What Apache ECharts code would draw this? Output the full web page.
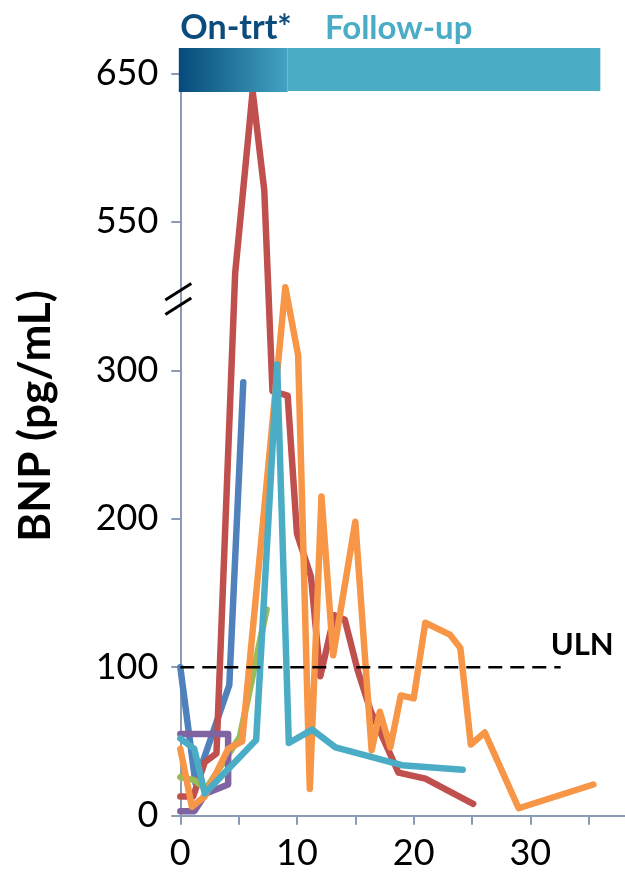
<!DOCTYPE html>
<html>
<head>
<meta charset="utf-8">
<script src="https://cdn.jsdelivr.net/npm/echarts@6/dist/echarts.min.js"></script>
<style>
  html, body { margin: 0; padding: 0; background: #ffffff; overflow: hidden; }
  /* the month axis runs on past the right edge of the page, so the canvas is wider than the view */
  #chart { width: 650px; height: 872px; }
</style>
</head>
<body>
<div id="chart"></div>
<script>
// Months since start of treatment (x) and BNP in pg/mL (y), one pair of arrays per patient
const blueMonths   = [0, 1.3, 4.2, 5.4];
const blueBNP      = [100, 22, 88, 292];

const redMonths    = [0, 1.1, 2.1, 3.1, 4.7, 6.2, 7.2, 7.9, 9.2, 10.0, 11.2, 12.0, 13.2, 14.1, 15.2, 16.3, 18.7, 21.0, 25.1];
const redBNP       = [13, 13, 36, 42, 463, 638, 571, 286, 283, 190, 161, 94, 135, 132, 98, 71, 29, 25, 8];

const greenMonths  = [0, 1.2, 2.2, 5.1, 7.4];
const greenBNP     = [26, 24, 18, 53, 139];

const purpleMonths = [0, 1.2, 2.2, 4.1, 4.1, 0];
const purpleBNP    = [3, 3, 15, 21, 55, 55];

const orangeMonths = [0, 1.0, 2.1, 4.1, 5.3, 9.0, 10.1, 11.1, 12.1, 13.1, 15.0, 16.4, 17.1, 18.0, 18.9, 20.0, 21.0, 23.1, 24.0, 24.9, 26.1, 29.0, 35.4];
const orangeBNP    = [45, 6, 13, 45, 50, 440, 325, 18, 215, 108, 198, 44, 70, 46, 81, 79, 130, 122, 113, 48, 56, 5, 21];

const tealMonths   = [0, 1.2, 2.1, 6.5, 8.3, 9.3, 11.3, 13.3, 19.0, 24.2];
const tealBNP      = [52, 45, 15, 51, 310, 49, 58, 46, 34, 31];

// Upper limit of normal and the treatment / follow-up phases
const ulnBNP = 100;
const ulnMonths = [0, 32.6];
const onTreatmentEnd = 9.2;
const followUpEnd = 36;

// Tick labels
const xTickLabels = [0, 10, 20, 30];
const yTickLabels = [0, 100, 200, 300, 550, 650];

// Broken value axis: 0–300 linear, 300–550 squeezed into one step, then linear again
const BREAK_LOW = 300, BREAK_HIGH = 550, BREAK_STEP = 100;
function toAxis(v) {
  if (v <= BREAK_LOW) return v;
  if (v <= BREAK_HIGH) return BREAK_LOW + (v - BREAK_LOW) * BREAK_STEP / (BREAK_HIGH - BREAK_LOW);
  return v - (BREAK_HIGH - BREAK_LOW - BREAK_STEP);
}
// axis positions that carry a tick label
const yTickPositions = yTickLabels.map(toAxis);

const FONT = 'Lato';
const AXIS_COLOR = '#8a9bb4';

const patients = [
  { name: 'P1', color: '#4f81bd', x: blueMonths,   y: blueBNP },
  { name: 'P2', color: '#c0504d', x: redMonths,    y: redBNP },
  { name: 'P3', color: '#9bbb59', x: greenMonths,  y: greenBNP },
  { name: 'P4', color: '#8064a2', x: purpleMonths, y: purpleBNP },
  { name: 'P5', color: '#f79646', x: orangeMonths, y: orangeBNP },
  { name: 'P6', color: '#4bacc6', x: tealMonths,   y: tealBNP }
];

const chart = echarts.init(document.getElementById('chart'), null, { renderer: 'canvas' });

const series = patients.map(p => ({
  name: p.name,
  type: 'line',
  symbol: 'none',
  data: p.x.map((m, i) => [m, toAxis(p.y[i])]),
  lineStyle: { color: p.color, width: 6.5, cap: 'round', join: 'round' },
  itemStyle: { color: p.color },
  z: 2
}));

series.push({
  name: 'ULN',
  type: 'line',
  symbol: 'none',
  data: ulnMonths.map(m => [m, toAxis(ulnBNP)]),
  lineStyle: { color: '#000000', width: 2.5, type: [14, 8] },
  z: 3
});

chart.setOption({
  animation: false,
  backgroundColor: '#ffffff',
  grid: { left: 180.3, right: 0.3, top: 73.4, bottom: 56.3, containLabel: false },
  xAxis: {
    type: 'value',
    min: 0,
    max: 40,
    interval: 5,
    axisLine: { show: true, lineStyle: { color: AXIS_COLOR, width: 2 } },
    axisTick: { show: true, length: 9, lineStyle: { color: AXIS_COLOR, width: 2 } },
    splitLine: { show: false },
    axisLabel: {
      margin: 20,
      fontFamily: FONT,
      fontSize: 36,
      color: '#000000',
      formatter: v => (xTickLabels.indexOf(v) >= 0 ? String(v) : '')
    }
  },
  yAxis: {
    type: 'value',
    min: 0,
    max: toAxis(yTickLabels[yTickLabels.length - 1]),
    interval: 100,
    axisLine: { show: true, lineStyle: { color: AXIS_COLOR, width: 2 } },
    axisTick: { show: true, length: 9, lineStyle: { color: AXIS_COLOR, width: 2 } },
    splitLine: { show: false },
    axisLabel: {
      margin: 22,
      fontFamily: FONT,
      fontSize: 36,
      color: '#000000',
      formatter: v => {
        const k = yTickPositions.indexOf(v);
        return k >= 0 ? String(yTickLabels[k]) : '';
      }
    }
  },
  series: series
});

// Decorations placed from axis coordinates
const toPx = (x, y) => chart.convertToPixel({ gridIndex: 0 }, [x, y]);
const [xStart, yTopAxis] = toPx(0, toAxis(yTickLabels[yTickLabels.length - 1]));
const [xTrtEnd] = toPx(onTreatmentEnd, 0);
const [xFollowEnd] = toPx(followUpEnd, 0);
const [, yBreak] = toPx(0, toAxis(420));
const [xUlnEnd, yUln] = toPx(ulnMonths[1], toAxis(ulnBNP));
const barTop = yTopAxis - 25.5;
const barHeight = 43;

chart.setOption({
  graphic: [
    {
      type: 'rect',
      shape: { x: xStart - 1.5, y: barTop, width: xTrtEnd - xStart + 1.5, height: barHeight + 1 },
      style: {
        fill: new echarts.graphic.LinearGradient(0, 0, 1, 0, [
          { offset: 0, color: '#064a7b' },
          { offset: 1, color: '#43a3c1' }
        ])
      },
      z: 10
    },
    {
      type: 'rect',
      shape: { x: xTrtEnd, y: barTop, width: xFollowEnd - xTrtEnd, height: barHeight },
      style: { fill: '#4bacc6' },
      z: 10
    },
    {
      type: 'text',
      x: xStart, y: barTop - 20,
      style: { text: 'On-trt*', fill: '#0b4c7d', font: 'bold 34px ' + FONT, align: 'left', verticalAlign: 'middle' },
      z: 10
    },
    {
      type: 'text',
      x: 325, y: barTop - 20,
      style: { text: 'Follow-up', fill: '#4bacc6', font: 'bold 33px ' + FONT, align: 'left', verticalAlign: 'middle' },
      z: 10
    },
    {
      type: 'text',
      x: 36, y: 416,
      rotation: Math.PI / 2,
      style: { text: 'BNP (pg/mL)', fill: '#000000', font: 'bold 44px ' + FONT, align: 'center', verticalAlign: 'middle' },
      z: 10
    },
    {
      type: 'line',
      shape: { x1: xStart - 15, y1: yBreak + 1, x2: xStart + 11, y2: yBreak - 15.5 },
      style: { stroke: '#000000', lineWidth: 3 },
      z: 10
    },
    {
      type: 'line',
      shape: { x1: xStart - 15, y1: yBreak + 15.5, x2: xStart + 11, y2: yBreak - 1 },
      style: { stroke: '#000000', lineWidth: 3 },
      z: 10
    },
    {
      type: 'text',
      x: xUlnEnd - 10, y: yUln - 22,
      style: { text: 'ULN', fill: '#000000', font: 'bold 31px ' + FONT, align: 'left', verticalAlign: 'middle' },
      z: 10
    }
  ]
});
</script>
</body>
</html>
